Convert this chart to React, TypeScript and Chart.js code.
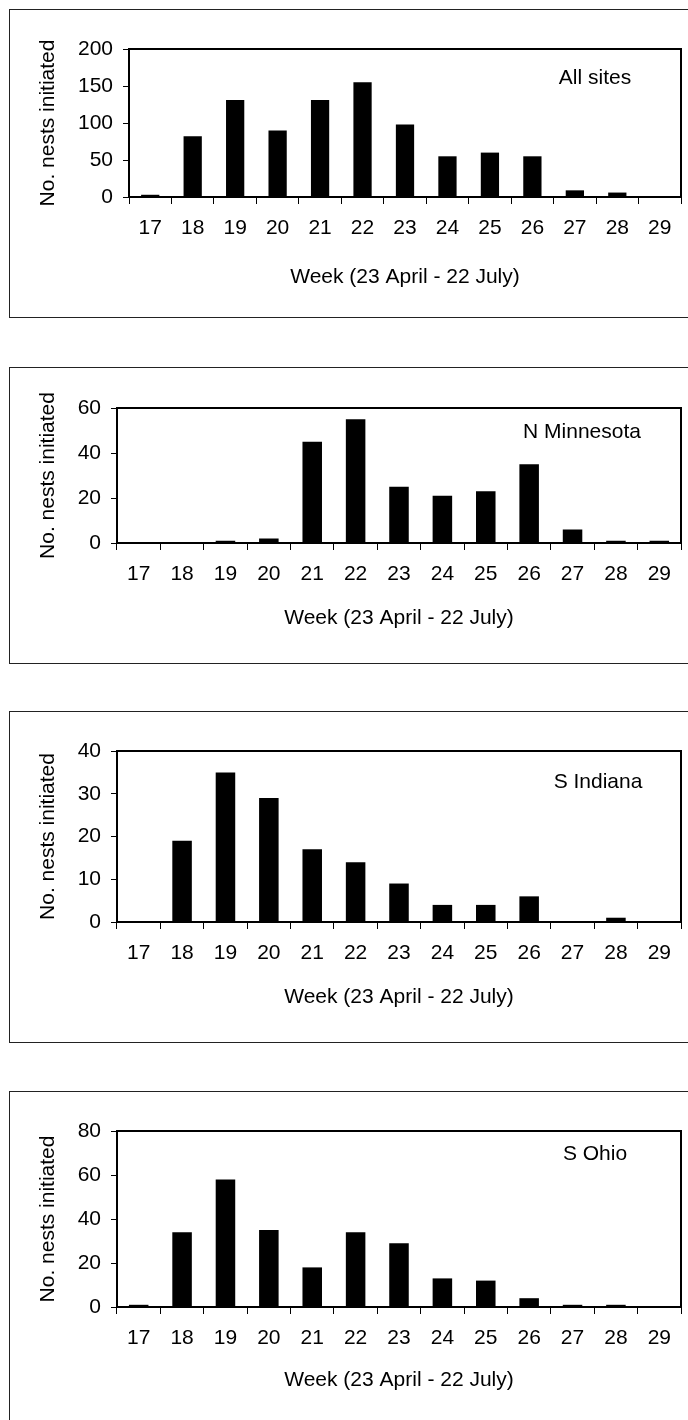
import React, { useEffect, useRef } from "react";
import { Chart, registerables } from "chart.js";

Chart.register(...registerables);

// ---- data ----
const weeks = ["17", "18", "19", "20", "21", "22", "23", "24", "25", "26", "27", "28", "29"];
const allSites = [3, 82, 131, 90, 131, 155, 98, 55, 60, 55, 9, 6, 0];
const nMinnesota = [0, 0, 1, 2, 45, 55, 25, 21, 23, 35, 6, 1, 1];
const sIndiana = [0, 19, 35, 29, 17, 14, 9, 4, 4, 6, 0, 1, 0];
const sOhio = [1, 34, 58, 35, 18, 34, 29, 13, 12, 4, 1, 1, 0];
const panelNames = ["All sites", "N Minnesota", "S Indiana", "S Ohio"];
const yMaxes = [200, 60, 40, 80];
const ySteps = [50, 20, 10, 20];
const yTitle = "No. nests initiated";
const xTitle = "Week (23 April - 22 July)";

const seriesList = [allSites, nMinnesota, sIndiana, sOhio];

// ---- layout (pixels) ----
const FONT_FAMILY = '"Liberation Sans", Arial, sans-serif';
const FONT_SIZE = 21;
const PAD_LEFT = 36;
const layouts = [
  { top: 0, height: 340, boxTop: 9, boxBottom: 317, plotLeft: 129, plotTop: 49, plotBottom: 197, xAxisH: 93, bar: 0.43, ldx: -86, ldy: 29 },
  { top: 340, height: 360, boxTop: 27, boxBottom: 323, plotLeft: 117, plotTop: 68, plotBottom: 203, xAxisH: 88, bar: 0.45, ldx: -99, ldy: 24 },
  { top: 700, height: 370, boxTop: 11, boxBottom: 342, plotLeft: 117, plotTop: 51, plotBottom: 222, xAxisH: 88, bar: 0.45, ldx: -83, ldy: 31 },
  { top: 1070, height: 350, boxTop: 21, boxBottom: 420, plotLeft: 117, plotTop: 61, plotBottom: 237, xAxisH: 86, bar: 0.45, ldx: -86, ldy: 23 },
];

function Panel({ idx }: { idx: number }) {
  const ref = useRef<HTMLCanvasElement | null>(null);
  const L = layouts[idx];
  useEffect(() => {
    if (!ref.current) return;
    const font = { family: FONT_FAMILY, size: FONT_SIZE };
    const boxPlugin = {
      id: "panelBox",
      beforeDraw(chart: any) {
        const ctx = chart.ctx;
        ctx.save();
        ctx.fillStyle = "#ffffff";
        ctx.fillRect(0, 0, chart.width, chart.height);
        ctx.strokeStyle = "#222222";
        ctx.lineWidth = 1;
        ctx.strokeRect(9.5, L.boxTop + 0.5, 720, L.boxBottom - L.boxTop);
        ctx.restore();
      },
      afterDraw(chart: any) {
        const ctx = chart.ctx;
        const ca = chart.chartArea;
        ctx.save();
        ctx.strokeStyle = "#000000";
        ctx.lineWidth = 2;
        ctx.strokeRect(ca.left, ca.top, ca.right - ca.left, ca.bottom - ca.top);
        ctx.fillStyle = "#000000";
        ctx.font = `${FONT_SIZE}px ${FONT_FAMILY}`;
        ctx.textAlign = "center";
        ctx.textBaseline = "middle";
        ctx.fillText(panelNames[idx], ca.right + L.ldx, ca.top + L.ldy);
        ctx.restore();
      },
    };
    const chart = new Chart(ref.current, {
      type: "bar",
      data: {
        labels: weeks,
        datasets: [
          {
            data: seriesList[idx],
            backgroundColor: "#000000",
            borderWidth: 0,
            barPercentage: L.bar,
            categoryPercentage: 1,
          },
        ],
      },
      options: {
        responsive: false,
        animation: false,
        devicePixelRatio: 1,
        layout: {
          padding: {
            left: PAD_LEFT,
            top: L.plotTop,
            right: 7,
            bottom: L.height - L.plotBottom - L.xAxisH,
          },
        },
        plugins: {
          legend: { display: false },
          tooltip: { enabled: false },
        },
        scales: {
          x: {
            type: "category",
            offset: true,
            grid: { offset: true, drawOnChartArea: false, drawTicks: true, tickLength: 7, color: "#000000", lineWidth: 1 },
            border: { display: false },
            ticks: { color: "#000000", font, padding: 12, maxRotation: 0, autoSkip: false },
            title: { display: true, text: xTitle, color: "#000000", font, padding: 0 },
            afterFit: (s: any) => {
              s.height = L.xAxisH;
            },
          },
          y: {
            min: 0,
            max: yMaxes[idx],
            ticks: { stepSize: ySteps[idx], color: "#000000", font, padding: 10 },
            grid: { drawOnChartArea: false, drawTicks: true, tickLength: 6, color: "#000000", lineWidth: 1 },
            border: { display: false },
            title: { display: true, text: yTitle, color: "#000000", font, padding: 0 },
            afterFit: (s: any) => {
              s.width = L.plotLeft - PAD_LEFT;
            },
          },
        },
      },
      plugins: [boxPlugin],
    } as any);
    return () => chart.destroy();
  }, [idx]);
  return (
    <canvas
      ref={ref}
      width={688}
      height={L.height}
      style={{ position: "absolute", left: 0, top: L.top, width: 688, height: L.height, display: "block" }}
    />
  );
}

export default function App() {
  return (
    <div style={{ position: "absolute", left: 0, top: 0, width: 688, height: 1420, overflow: "hidden", background: "#ffffff" }}>
      {layouts.map((_, i) => (
        <Panel key={i} idx={i} />
      ))}
    </div>
  );
}
